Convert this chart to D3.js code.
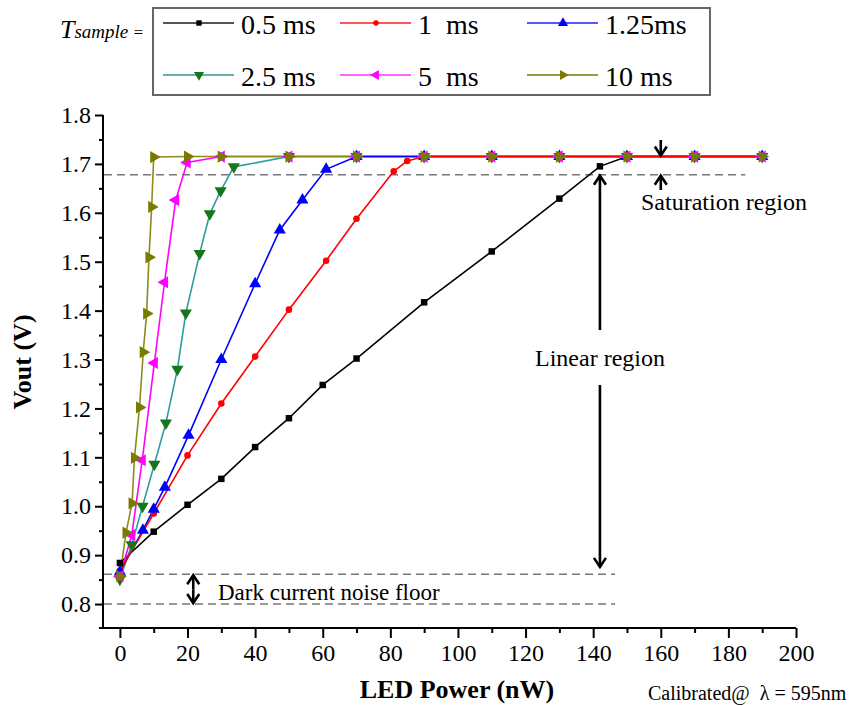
<!DOCTYPE html>
<html>
<head>
<meta charset="utf-8">
<script src="https://cdn.jsdelivr.net/npm/d3@7"></script>
<style>
  body { margin: 0; background: #fff; }
  text { font-family: "Liberation Serif", "Times New Roman", serif; }
</style>
</head>
<body>
<div id="chart"></div>
<script>
// Vout vs LED power for several sample times
var labels = ['0.5 ms', '1  ms', '1.25ms', '2.5 ms', '5  ms', '10 ms'];

var p05 = [0, 10, 20, 30, 40, 50, 60, 70, 90, 110, 130, 142, 150, 170, 190];
var v05 = [0.884, 0.948, 1.003, 1.056, 1.121, 1.180, 1.248, 1.302, 1.417, 1.521, 1.629, 1.695, 1.715, 1.715, 1.715];

var p1 = [0, 10, 20, 30, 40, 50, 61, 70, 81, 85, 90, 110, 130, 150, 170, 190];
var v1 = [0.868, 0.985, 1.104, 1.210, 1.306, 1.402, 1.502, 1.588, 1.685, 1.706, 1.715, 1.715, 1.715, 1.715, 1.715, 1.715];

var p125 = [0, 6.8, 10, 13.3, 20.3, 30, 40, 47.3, 54, 61, 70, 90, 110, 130, 150, 170, 190];
var v125 = [0.866, 0.951, 0.994, 1.039, 1.145, 1.300, 1.455, 1.565, 1.626, 1.689, 1.715, 1.715, 1.715, 1.715, 1.715, 1.715, 1.715];

var p25 = [0, 3.5, 6.7, 10.2, 13.6, 17, 19.5, 23.6, 26.6, 29.8, 33.7, 50, 70, 90, 110, 130, 150, 170, 190];
var v25 = [0.851, 0.921, 1.000, 1.086, 1.170, 1.280, 1.395, 1.517, 1.598, 1.645, 1.694, 1.715, 1.715, 1.715, 1.715, 1.715, 1.715, 1.715, 1.715];

var p5 = [0, 3.5, 6.6, 10.2, 13.2, 16.5, 19.9, 30, 50, 70, 90, 110, 130, 150, 170, 190];
var v5 = [0.857, 0.941, 1.094, 1.293, 1.458, 1.626, 1.703, 1.715, 1.715, 1.715, 1.715, 1.715, 1.715, 1.715, 1.715, 1.715];

var p10 = [0, 1.8, 3.6, 4.3, 5.8, 6.9, 7.9, 8.6, 9.4, 10, 20, 30, 50, 70, 90, 110, 130, 150, 170, 190];
var v10 = [0.857, 0.946, 1.006, 1.099, 1.202, 1.315, 1.394, 1.509, 1.612, 1.714, 1.715, 1.715, 1.715, 1.715, 1.715, 1.715, 1.715, 1.715, 1.715, 1.715];

var xTicks = [0, 20, 40, 60, 80, 100, 120, 140, 160, 180, 200];
var yTicks = [0.8, 0.9, 1.0, 1.1, 1.2, 1.3, 1.4, 1.5, 1.6, 1.7, 1.8];

var satLevel = 1.678, darkTop = 0.861, darkBottom = 0.80;

var lineColors = ['#000000', '#ff0000', '#0000ff', '#2f9c9c', '#ff00ff', '#8c8c1a'];
var markColors = ['#000000', '#ff0000', '#0000ff', '#16761c', '#ff00ff', '#7a7a00'];
var keyColors = ['#555555', '#ff5555', '#5555ff', '#6ab0b0', '#ff66ff', '#9a9a40'];
var shapes = [d3.symbolSquare, d3.symbolCircle, d3.symbolTriangle, d3.symbolTriangle, d3.symbolTriangle, d3.symbolTriangle];
var sizes = [42, 34, 64, 64, 64, 64];
var rotations = [0, 0, 0, 180, -90, 90];

var xs = [p05, p1, p125, p25, p5, p10];
var ys = [v05, v1, v125, v25, v5, v10];
var series = labels.map(function(l, i) {
    return { label: l, i: i, pts: xs[i].map(function(x, j) { return [x, ys[i][j]]; }) };
});

var width = 865, height = 706;
var x = d3.scaleLinear().domain([-5, 200]).range([103, 796]);
var y = d3.scaleLinear().domain([0.75, 1.8]).range([628.5, 115]);

var svg = d3.select('#chart').append('svg')
    .attr('width', width)
    .attr('height', height);

// axes
var xAxis = d3.axisBottom(x).tickValues(xTicks).tickSize(10).tickPadding(6).tickFormat(d3.format('d'));
var xMinor = d3.axisBottom(x).tickValues(d3.range(10, 200, 20)).tickSize(5).tickFormat('');
var yAxis = d3.axisLeft(y).tickValues(yTicks).tickSize(8).tickPadding(4).tickFormat(d3.format('.1f'));
var yMinor = d3.axisLeft(y).tickValues(d3.range(0.85, 1.8, 0.1)).tickSize(4).tickFormat('');

function styleAxis(g) {
    g.select('.domain').attr('stroke', '#000').attr('stroke-width', 2);
    g.selectAll('.tick line').attr('stroke', '#000').attr('stroke-width', 2);
    g.selectAll('.tick text').attr('fill', '#000').style('font-family', '"Liberation Serif", serif').style('font-size', '24px');
}

svg.append('g').attr('transform', 'translate(0,628)').call(xAxis).call(styleAxis)
    .select('.domain').attr('d', 'M99,0H796');
svg.append('g').attr('transform', 'translate(0,628)').call(xMinor).call(styleAxis)
    .select('.domain').remove();
svg.append('g').attr('transform', 'translate(103,0)').call(yAxis).call(styleAxis)
    .select('.domain').attr('d', 'M0,' + y(1.8) + 'V629');
svg.append('g').attr('transform', 'translate(103,0)').call(yMinor).call(styleAxis)
    .select('.domain').remove();

// reference dashed lines
var refs = [[satLevel, 185], [darkTop, 146.5], [darkBottom, 146.5]];
svg.selectAll('line.ref').data(refs).enter().append('line')
    .attr('class', 'ref')
    .attr('x1', x(-5) + 1).attr('x2', function(d) { return x(d[1]); })
    .attr('y1', function(d) { return y(d[0]); }).attr('y2', function(d) { return y(d[0]); })
    .attr('stroke', '#777').attr('stroke-width', 1.5).attr('stroke-dasharray', '8,5');

// lines (draw order matches the picture)
var line = d3.line().x(function(d) { return x(d[0]); }).y(function(d) { return y(d[1]); });
var lineOrder = [0, 4, 3, 5, 2, 1];
svg.selectAll('path.series').data(lineOrder.map(function(i) { return series[i]; })).enter().append('path')
    .attr('class', 'series')
    .attr('d', function(s) { return line(s.pts); })
    .attr('fill', 'none')
    .attr('stroke', function(s) { return lineColors[s.i]; })
    .attr('stroke-width', 1.6);

// markers
series.forEach(function(s) {
    var sym = d3.symbol().type(shapes[s.i]).size(sizes[s.i]);
    svg.append('g').selectAll('path').data(s.pts).enter().append('path')
        .attr('d', sym)
        .attr('transform', function(d) { return 'translate(' + x(d[0]) + ',' + y(d[1]) + ') rotate(' + rotations[s.i] + ')'; })
        .attr('fill', markColors[s.i]);
});

// arrows
function arrow(x0, yTail, yTip) {
    var dir = yTip > yTail ? 1 : -1;
    var g = svg.append('g').attr('stroke', '#000').attr('stroke-width', 2.6).attr('fill', 'none');
    g.append('line').attr('x1', x0).attr('x2', x0).attr('y1', yTail).attr('y2', yTip);
    g.append('path').attr('d', 'M' + (x0 - 6) + ',' + (yTip - dir * 9) + 'L' + x0 + ',' + yTip + 'L' + (x0 + 6) + ',' + (yTip - dir * 9));
}
arrow(x(142), 330, y(satLevel) + 1);
arrow(x(142), 385, y(0.876));
arrow(x(160), 140, y(1.715) - 1);
arrow(x(160), 190, y(satLevel) + 1);
arrow(x(21.7), y(0.83), y(darkTop) + 1);
arrow(x(21.7), y(0.83), y(darkBottom) - 1);

// annotations
var notes = [
    { t: 'Linear region', x: 600, y: 366, a: 'middle', s: 24 },
    { t: 'Saturation region', x: 641, y: 210, a: 'start', s: 24 },
    { t: 'Dark current noise floor', x: 218, y: 600, a: 'start', s: 23 },
    { t: 'Calibrated@  \u03bb = 595nm', x: 648, y: 700, a: 'start', s: 20 }
];
svg.selectAll('text.note').data(notes).enter().append('text')
    .attr('class', 'note')
    .attr('x', function(d) { return d.x; })
    .attr('y', function(d) { return d.y; })
    .attr('text-anchor', function(d) { return d.a; })
    .style('font-size', function(d) { return d.s + 'px'; })
    .style('white-space', 'pre')
    .text(function(d) { return d.t; });

// axis titles
svg.append('text').attr('x', 457).attr('y', 698).attr('text-anchor', 'middle')
    .style('font-size', '26px').style('font-weight', 'bold').text('LED Power (nW)');
svg.append('text').attr('transform', 'translate(31,362) rotate(-90)').attr('text-anchor', 'middle')
    .style('font-size', '26px').style('font-weight', 'bold').text('Vout (V)');

// legend
var t = svg.append('text').attr('x', 60).attr('y', 38).style('font-style', 'italic');
t.append('tspan').style('font-size', '26px').text('T');
t.append('tspan').style('font-size', '19px').text('sample');
t.append('tspan').style('font-size', '17px').text(' =');

svg.append('rect').attr('x', 153).attr('y', 8).attr('width', 557).attr('height', 87)
    .attr('fill', 'none').attr('stroke', '#666').attr('stroke-width', 2);

var colX = [163, 340, 527], rowY = [23, 75];
var key = svg.selectAll('g.key').data(series).enter().append('g')
    .attr('class', 'key')
    .attr('transform', function(s) { return 'translate(' + colX[s.i % 3] + ',' + rowY[Math.floor(s.i / 3)] + ')'; });
key.append('line').attr('x1', 0).attr('x2', 71).attr('y1', 0).attr('y2', 0)
    .attr('stroke', function(s) { return keyColors[s.i]; }).attr('stroke-width', 2);
key.append('path')
    .attr('d', function(s) { return d3.symbol().type(shapes[s.i]).size(sizes[s.i] * 0.7)(); })
    .attr('transform', function(s) { return 'translate(36,0) rotate(' + rotations[s.i] + ')'; })
    .attr('fill', function(s) { return markColors[s.i]; });
key.append('text').attr('x', 78).attr('y', 11)
    .style('font-size', '28px').style('white-space', 'pre')
    .text(function(s) { return s.label; });
</script>
</body>
</html>
